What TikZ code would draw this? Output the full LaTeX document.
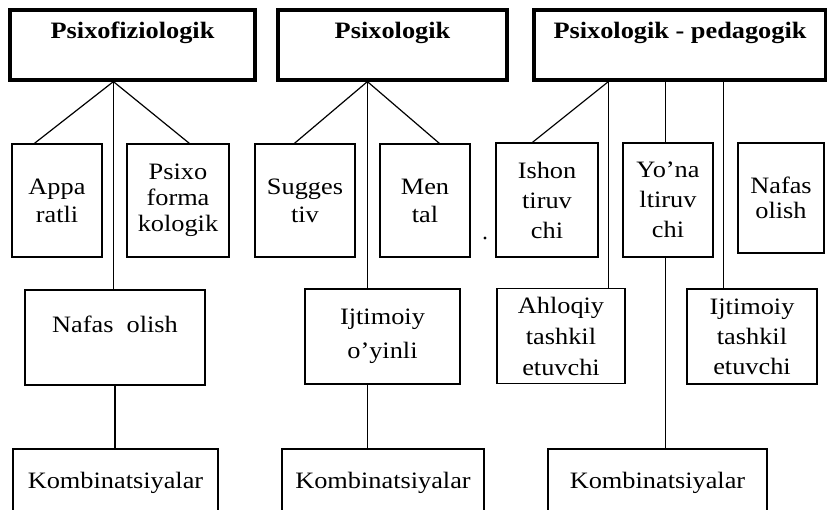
\documentclass[tikz,border=0pt]{standalone}
\usepackage{fontspec}
\setmainfont{Liberation Serif}[FakeStretch=1.12]
\usetikzlibrary{calc}
\begin{document}
\begin{tikzpicture}[x=1pt,y=-1pt,
  base/.style={draw, inner sep=0pt, align=center, line width=1.2pt},
  head/.style={base, line width=3.2pt, font=\bfseries\fontsize{23.5}{26}\selectfont,
               text height=16pt, text depth=30pt, minimum height=70pt},
  box/.style={base, font=\fontsize{23.5}{28}\selectfont},
  boxw/.style={base, font=\fontsize{23.5}{30}\selectfont},
  boxr/.style={base, font=\fontsize{23.5}{31}\selectfont},
  boxo/.style={base, font=\fontsize{23.5}{34}\selectfont},
  comb/.style={base, font=\fontsize{23.5}{27}\selectfont, text height=16pt, text depth=18pt,
               minimum height=80pt},
  conn/.style={line width=1.2pt}]
\useasboundingbox (0,0) rectangle (827,509);
\clip (0,0) rectangle (827,509);
% headers
\node[head, minimum width=245pt] (H1) at (132.5,45) {Psixofiziologik};
\node[head, minimum width=229pt] (H2) at (392.5,45) {Psixologik};
\node[head, minimum width=292pt] (H3) at (680,45) {Psixologik - pedagogik};
% second row
\node[box, minimum width=90pt, minimum height=113pt] (A) at (57,200.5) {Appa\\ratli};
\node[box, minimum width=102pt, minimum height=113pt, font=\fontsize{23.5}{26}\selectfont] (B) at (178,200.5) {Psixo\\forma\\kologik};
\node[box, minimum width=100pt, minimum height=113pt] (C) at (305,200.5) {Sugges\\tiv};
\node[box, minimum width=90pt, minimum height=113pt] (D) at (425,200.5) {Men\\tal};
\node[boxw, minimum width=102pt, minimum height=114pt] (E) at (547,200) {Ishon\\tiruv\\chi};
\node[boxw, minimum width=90pt, minimum height=114pt] (F) at (668,200) {Yo’na\\ltiruv\\chi};
\node[box, minimum width=86pt, minimum height=110pt, font=\fontsize{23.5}{25}\selectfont] (G) at (781,198) {Nafas\\olish};
% third row
\node[base, font=\fontsize{23.5}{27}\selectfont, text height=16pt, text depth=27pt,
      minimum width=180pt, minimum height=95pt] (N1) at (115,337.5) {Nafas\ \ olish};
\node[boxo, minimum width=155pt, minimum height=95pt] (N2) at (382.5,336.5) {Ijtimoiy\\o’yinli};
\node[boxr, minimum width=128pt, minimum height=95pt] (N3) at (561,336) {Ahloqiy\\tashkil\\etuvchi};
\node[boxw, minimum width=130pt, minimum height=95pt] (N4) at (752,336.5) {Ijtimoiy\\tashkil\\etuvchi};
% bottom row (cut off by the lower edge)
\node[comb, minimum width=205pt] (K1) at (115.5,489) {Kombinatsiyalar};
\node[comb, minimum width=202pt] (K2) at (383,489) {Kombinatsiyalar};
\node[comb, minimum width=219pt] (K3) at (657.5,489) {Kombinatsiyalar};
% connectors: Psixofiziologik
\coordinate (h1p) at ([xshift=105pt]H1.south west);
\draw[conn] (h1p) -- ([xshift=23pt]A.north west);
\draw[conn] (h1p) -- ([xshift=63pt]B.north west);
\draw[conn] (h1p) -- (h1p |- N1.north);
\draw[conn] (N1.south) -- (N1.south |- K1.north);
% connectors: Psixologik
\coordinate (h2p) at ([xshift=91pt]H2.south west);
\draw[conn] (h2p) -- ([xshift=40pt]C.north west);
\draw[conn] (h2p) -- ([xshift=60pt]D.north west);
\draw[conn] (h2p) -- (h2p |- N2.north);
\draw[conn] (h2p |- N2.south) -- (h2p |- K2.north);
% connectors: Psixologik - pedagogik
\coordinate (h3a) at ([xshift=76pt]H3.south west);
\coordinate (h3b) at ([xshift=133pt]H3.south west);
\coordinate (h3c) at ([xshift=191pt]H3.south west);
\draw[conn] (h3a) -- ([xshift=37pt]E.north west);
\draw[conn] (h3a) -- (h3a |- N3.north);
\draw[conn] (h3b) -- (h3b |- F.north);
\draw[conn] (h3b |- F.south) -- (h3b |- K3.north);
\draw[conn] (h3c) -- (h3c |- N4.north);
% stray dot
\fill (485,238) circle (1.6pt);
\end{tikzpicture}
\end{document}
